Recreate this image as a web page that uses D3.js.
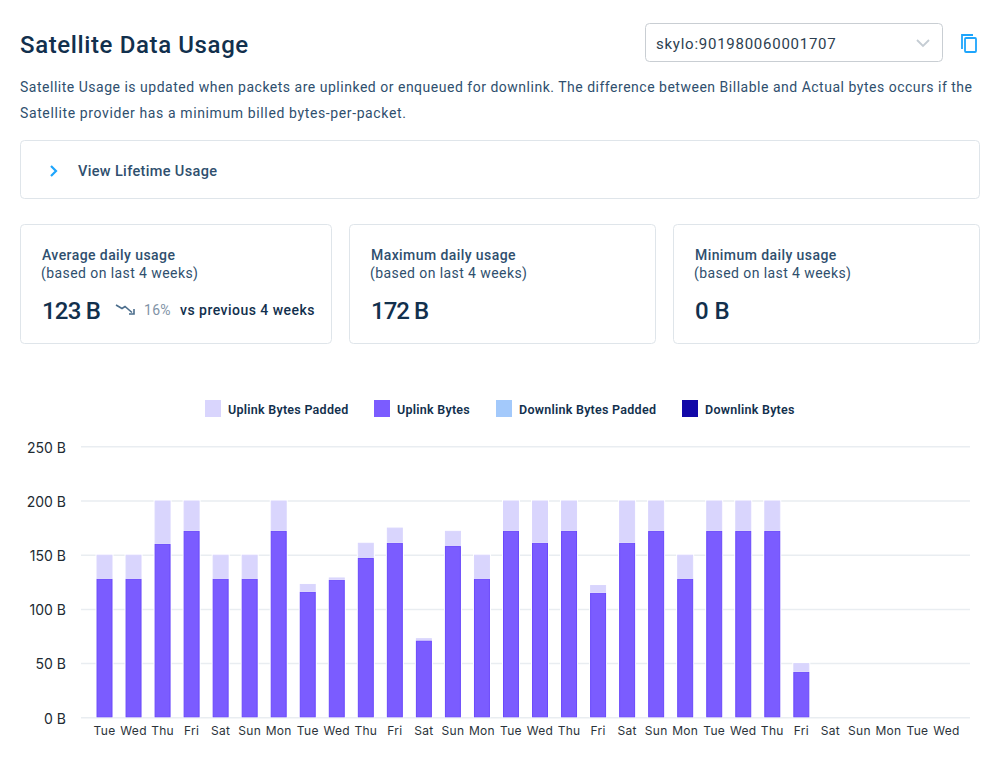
<!DOCTYPE html>
<html><head><meta charset="utf-8">
<script src="https://cdn.jsdelivr.net/npm/d3@7"></script>
<style>
html,body{margin:0;padding:0;background:#fff;width:1000px;height:767px;overflow:hidden}
svg{display:block}
text{font-family:"Roboto",sans-serif}
</style></head><body>
<svg id="c" width="1000" height="767"></svg>
<script>
const days = ["Tue","Wed","Thu","Fri","Sat","Sun","Mon","Tue","Wed","Thu","Fri","Sat","Sun","Mon","Tue","Wed","Thu","Fri","Sat","Sun","Mon","Tue","Wed","Thu","Fri","Sat","Sun","Mon","Tue","Wed"];
const uplinkBytes = [128,128,160,172,128,128,172,116,127,147,161,71,158,128,172,161,172,115,161,172,128,172,172,172,42,0,0,0,0,0];
const uplinkPadding = [22,22,40,28,22,22,28,7,2,14,14,2,14,22,28,39,28,7,39,28,22,28,28,28,8,0,0,0,0,0];
const downlinkPadding = days.map(() => 0);
const downlinkBytes = days.map(() => 0);
const yTicks = [0,50,100,150,200,250];
const legendLabels = ["Uplink Bytes Padded","Uplink Bytes","Downlink Bytes Padded","Downlink Bytes"];
const legendColors = ["#d9d5fd","#7b5cff","#a3c9fb","#1208a8"];
const legendX = [205,374,496,682];
const description = ["Satellite Usage is updated when packets are uplinked or enqueued for downlink. The difference between Billable and Actual bytes occurs if the","Satellite provider has a minimum billed bytes-per-packet."];
const cards = [
 {x:20,w:312,title:"Average daily usage",value:"123 B",ls:-0.8},
 {x:349,w:307,title:"Maximum daily usage",value:"172 B",ls:-1},
 {x:673,w:307,title:"Minimum daily usage",value:"0 B",ls:0}];

const svg = d3.select("#c");
const dark="#12304d", mid="#2f4f6e", border="#dfe5ea", blue="#1ea5fc";
function txt(s,x,y,size,weight,fill,ls,anchor){
  return svg.append("text").attr("x",x).attr("y",y).attr("font-size",size).attr("font-weight",weight)
   .attr("fill",fill).attr("letter-spacing",ls||0).attr("text-anchor",anchor||"start").text(s);
}
// header
txt("Satellite Data Usage",20,53,24,500,dark,0.62);
svg.append("rect").attr("x",645.5).attr("y",23.5).attr("width",297).attr("height",38).attr("rx",4).attr("fill","#fff").attr("stroke","#c9ced3");
txt("skylo:901980060001707",656,49,15,400,"#2c3e50",0.75);
svg.append("path").attr("d","M917 40l6 6 6-6").attr("fill","none").attr("stroke","#c4ccd3").attr("stroke-width",1.8);
svg.append("path").attr("d","M962 49V35h11").attr("fill","none").attr("stroke",blue).attr("stroke-width",1.8);
svg.append("rect").attr("x",965).attr("y",38).attr("width",11).attr("height",14).attr("rx",1).attr("fill","#fff").attr("stroke",blue).attr("stroke-width",1.8);
description.forEach((d,i)=>txt(d,20,92+i*26,14,400,mid,i?0.62:0.51));
// lifetime
svg.append("rect").attr("x",20.5).attr("y",140.5).attr("width",959).attr("height",58).attr("rx",4).attr("fill","#fff").attr("stroke",border);
svg.append("path").attr("d","M51 166l5 5-5 5").attr("fill","none").attr("stroke",blue).attr("stroke-width",2.2);
txt("View Lifetime Usage",78,176,14.5,500,mid,0.35);
// cards
cards.forEach(c=>{
  svg.append("rect").attr("x",c.x+.5).attr("y",224.5).attr("width",c.w-1).attr("height",119).attr("rx",4).attr("fill","#fff").attr("stroke",border);
  txt(c.title,c.x+22,259.5,14,500,mid,0.42);
  txt("(based on last 4 weeks)",c.x+21,278,14,400,mid,0.42);
  txt(c.value,c.x+22,319,24,500,dark,c.ls);
});
svg.append("path").attr("d","M116 305l6 3.500 3-2 7 6M134 309v5h-5").attr("fill","none").attr("stroke","#4b6d8c").attr("stroke-width",1.6);
txt("16%",144,315,14,400,"#7f93a6",0.3);
txt("vs previous 4 weeks",180,315,14,500,dark,0.47);
// legend
legendLabels.forEach((l,i)=>{
  svg.append("rect").attr("x",legendX[i]).attr("y",400).attr("width",16).attr("height",17).attr("fill",legendColors[i]);
  txt(l,legendX[i]+23,413.5,12.5,600,dark,0.26);
});
// chart
const x = d3.scaleBand().domain(d3.range(days.length)).range([90,961]).paddingInner(0.45).paddingOuter(0.225);
const y = d3.scaleLinear().domain([0,250]).range([717.3,446.3]);
const gridG = svg.append("g");
const yAxis = d3.axisLeft(y).tickValues(yTicks).tickSize(-889).tickPadding(15).tickFormat(d=>d+" B");
gridG.attr("transform","translate(81,0)").call(yAxis);
gridG.select(".domain").remove();
gridG.selectAll(".tick line").attr("stroke","#e9edf1").attr("stroke-width",1.5);
gridG.selectAll(".tick text").attr("font-size",14).attr("fill","#222b33").attr("dy","0.42em").style("font-family","Inter, sans-serif");
const xG = svg.append("g").attr("transform","translate(0,717)").call(d3.axisBottom(x).tickSize(0).tickPadding(9).tickFormat(i=>days[i]));
xG.select(".domain").remove();
xG.selectAll(".tick text").attr("font-size",12).attr("fill","#2b333a").attr("letter-spacing",0.3).style("font-family","Inter, sans-serif");

const rows = days.map((d,i)=>({i,uplinkBytes:uplinkBytes[i],uplinkPadding:uplinkPadding[i],downlinkBytes:downlinkBytes[i],downlinkPadding:downlinkPadding[i]}));
const keys=["uplinkBytes","uplinkPadding","downlinkBytes","downlinkPadding"];
const color={uplinkBytes:"#7b5cff",uplinkPadding:"#d9d5fd",downlinkBytes:"#1208a8",downlinkPadding:"#a3c9fb"};
const edge={uplinkBytes:"#6a49fb",uplinkPadding:"#d9d5fd",downlinkBytes:"#1208a8",downlinkPadding:"#a3c9fb"};
const stacked=d3.stack().keys(keys)(rows);
stacked.forEach(s=>{
  svg.append("g").selectAll("rect").data(s.filter(d=>d[1]>d[0])).join("rect")
   .attr("x",d=>x(d.data.i)-1).attr("width",x.bandwidth()+2)
   .attr("y",d=>y(d[1])-1).attr("height",d=>y(d[0])-y(d[1])+1)
   .attr("fill","#fff");
  svg.append("g").selectAll("rect").data(s.filter(d=>d[1]>d[0])).join("rect")
   .attr("x",d=>x(d.data.i)+.5).attr("width",x.bandwidth()-1)
   .attr("y",d=>y(d[1])+.5).attr("height",d=>Math.max(0.5,y(d[0])-y(d[1])-1))
   .attr("fill",color[s.key]).attr("stroke",edge[s.key]).attr("stroke-width",1);
});
</script></body></html>
